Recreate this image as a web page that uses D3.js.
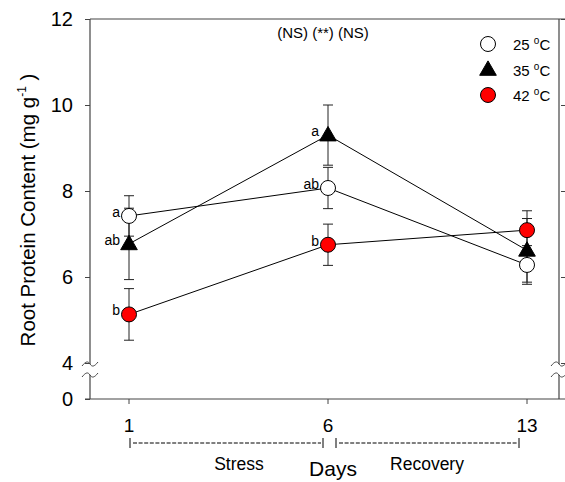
<!DOCTYPE html>
<html>
<head>
<meta charset="utf-8">
<script src="https://cdn.jsdelivr.net/npm/d3@7"></script>
<style>
  body { margin: 0; background: #fff; }
  text { font-family: Arial, "Liberation Sans", sans-serif; fill: #000; }
</style>
</head>
<body>
<div id="chart"></div>
<script>
// data
const days = ['1', '6', '13'];
const t25 = [7.42, 8.07, 6.28];
const t25err = [0.47, 0.48, 0.45];
const t35 = [6.77, 9.3, 6.62];
const t35err = [0.83, 0.7, 0.74];
const t42 = [5.13, 6.75, 7.09];
const t42err = [0.6, 0.48, 0.45];
const letters25 = ['a', 'ab', ''];
const letters35 = ['ab', 'a', ''];
const letters42 = ['b', 'b', ''];
const yTicks = [0, 4, 6, 8, 10, 12];

const width = 565, height = 482;
const svg = d3.select('#chart').append('svg')
    .attr('width', width)
    .attr('height', height);

// scales
const xScale = d3.scalePoint().domain(days).range([129, 527]);
const yScale = d3.scaleLinear().domain([0, 4, 12]).range([399, 363, 19]);

const plotLeft = 90, plotRight = 565, plotTop = 19, plotBottom = 399;
const axisColor = '#444';

// frame (top + bottom)
svg.append('line').attr('x1', plotLeft).attr('x2', plotRight + 2).attr('y1', plotTop).attr('y2', plotTop)
    .attr('stroke', axisColor).attr('stroke-width', 1.2);
svg.append('line').attr('x1', plotLeft - 5).attr('x2', plotRight + 2).attr('y1', plotBottom).attr('y2', plotBottom)
    .attr('stroke', axisColor).attr('stroke-width', 1.2);

// left axis with break
const yAxis = d3.axisLeft(yScale).tickValues(yTicks).tickSize(5).tickPadding(6).tickFormat(d3.format('d'));
const gy = svg.append('g').attr('transform', `translate(${plotLeft},0)`).call(yAxis);
gy.select('.domain').remove();
gy.selectAll('.tick line').attr('stroke', axisColor);
gy.selectAll('.tick text').style('font-size', '20px').attr('x', -17);

// right axis ticks (inward)
const gr = svg.append('g').attr('transform', `translate(${plotRight},0)`)
    .call(d3.axisLeft(yScale).tickValues(yTicks.filter(d => d > 0)).tickSize(4).tickFormat(''));
gr.select('.domain').remove();
gr.selectAll('.tick line').attr('stroke', axisColor);

function breakAxis(x) {
    const yb1 = yScale(4) + 1, yb2 = yScale(4) + 12;
    svg.append('line').attr('x1', x).attr('x2', x).attr('y1', plotTop).attr('y2', yb1)
        .attr('stroke', axisColor).attr('stroke-width', 1.2);
    svg.append('line').attr('x1', x).attr('x2', x).attr('y1', yb2).attr('y2', plotBottom)
        .attr('stroke', axisColor).attr('stroke-width', 1.2);
    [yb1, yb2].forEach(yb => {
        svg.append('path')
            .attr('d', `M${x - 8},${yb + 2} C${x - 4},${yb - 3} ${x - 2},${yb - 3} ${x},${yb} S${x + 4},${yb + 3} ${x + 8},${yb - 2}`)
            .attr('fill', 'none').attr('stroke', axisColor).attr('stroke-width', 1);
    });
}
breakAxis(plotLeft);
breakAxis(plotRight - 6);

// x axis ticks + labels
days.forEach(d => {
    svg.append('line').attr('x1', xScale(d)).attr('x2', xScale(d)).attr('y1', plotBottom).attr('y2', plotBottom + 5)
        .attr('stroke', axisColor);
});
svg.selectAll('.xlab').data(days).enter().append('text')
    .attr('class', 'xlab')
    .attr('x', d => xScale(d))
    .attr('y', 432)
    .attr('text-anchor', 'middle')
    .style('font-size', '19px')
    .text(d => d);

// stress / recovery brackets
function bracket(x1, x2) {
    const y = 443;
    svg.append('line').attr('x1', x1).attr('x2', x1).attr('y1', y - 5).attr('y2', y + 5).attr('stroke', '#000');
    svg.append('line').attr('x1', x2).attr('x2', x2).attr('y1', y - 5).attr('y2', y + 5).attr('stroke', '#000');
    svg.append('line').attr('x1', x1 + 3).attr('x2', x2 - 2).attr('y1', y).attr('y2', y)
        .attr('stroke', '#000').attr('stroke-dasharray', '4,1.6');
}
bracket(xScale('1') + 1, xScale('6') - 5);
bracket(xScale('6') + 8, xScale('13') - 8);
svg.append('text').attr('x', 239).attr('y', 470).attr('text-anchor', 'middle').style('font-size', '17.5px').text('Stress');
svg.append('text').attr('x', 427).attr('y', 470).attr('text-anchor', 'middle').style('font-size', '17.5px').text('Recovery');
svg.append('text').attr('x', 333).attr('y', 476).attr('text-anchor', 'middle').style('font-size', '21px').text('Days');

// y label
const ylab = svg.append('text')
    .attr('transform', 'translate(35,210) rotate(-90)')
    .attr('text-anchor', 'middle')
    .style('font-size', '20.5px');
ylab.append('tspan').text('Root Protein Content (mg g');
ylab.append('tspan').attr('dy', -9).style('font-size', '12px').text('-1');
ylab.append('tspan').attr('dy', 9).text(' )');

// significance
svg.append('text').attr('x', 323).attr('y', 38).attr('text-anchor', 'middle').style('font-size', '15px')
    .text('(NS) (**) (NS)');

// series
const series = [
    {name: '25', vals: t25, err: t25err, letters: letters25, shape: 'circle', fill: '#fff'},
    {name: '35', vals: t35, err: t35err, letters: letters35, shape: 'triangle', fill: '#000'},
    {name: '42', vals: t42, err: t42err, letters: letters42, shape: 'circle', fill: '#ff0000'}
];

const line = d3.line().x((d, i) => xScale(days[i])).y(d => yScale(d));

// error bars
series.forEach(s => {
    s.vals.forEach((v, i) => {
        const x = xScale(days[i]);
        const y1 = yScale(v + s.err[i]), y2 = yScale(v - s.err[i]);
        svg.append('line').attr('x1', x).attr('x2', x).attr('y1', y1).attr('y2', y2).attr('stroke', '#222');
        [y1, y2].forEach(yy => {
            svg.append('line').attr('x1', x - 5).attr('x2', x + 5).attr('y1', yy).attr('y2', yy).attr('stroke', '#222');
        });
    });
});

// lines
series.forEach(s => {
    svg.append('path').datum(s.vals).attr('d', line)
        .attr('fill', 'none').attr('stroke', '#000').attr('stroke-width', 1);
});

function marker(g, shape, fill, x, y) {
    if (shape === 'circle') {
        g.append('circle').attr('cx', x).attr('cy', y).attr('r', 7.5)
            .attr('fill', fill).attr('stroke', '#000').attr('stroke-width', 1);
    } else {
        g.append('path').attr('d', d3.symbol().type(d3.symbolTriangle).size(120)())
            .attr('transform', `translate(${x},${y + 1})`)
            .attr('fill', fill).attr('stroke', '#000');
    }
}

// markers and letters
series.forEach(s => {
    s.vals.forEach((v, i) => {
        const x = xScale(days[i]), y = yScale(v);
        marker(svg, s.shape, s.fill, x, y);
        if (s.letters[i]) {
            svg.append('text').attr('x', x - 9).attr('y', y + 1).attr('text-anchor', 'end')
                .style('font-size', '14px').text(s.letters[i]);
        }
    });
});

// legend
const legend = svg.append('g');
series.forEach((s, i) => {
    const y = 44 + i * 25.5;
    marker(legend, s.shape, s.fill, 488, y);
    const t = legend.append('text').attr('x', 513).attr('y', y + 6).style('font-size', '15px');
    t.append('tspan').text(s.name + ' ');
    t.append('tspan').attr('dy', -6).style('font-size', '10px').text('o');
    t.append('tspan').attr('dy', 6).text('C');
});
</script>
</body>
</html>
